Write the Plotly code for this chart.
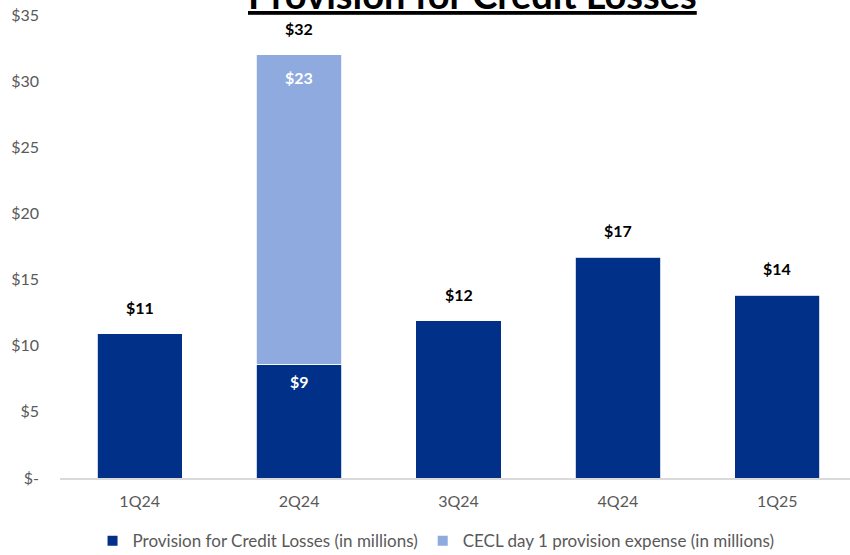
import plotly.graph_objects as go

quarters = ["1Q24", "2Q24", "3Q24", "4Q24", "1Q25"]
provision = [10.9, 8.6, 11.9, 16.7, 13.8]
cecl_day1 = [None, 23.4, None, None, None]
y_ticks = [0, 5, 10, 15, 20, 25, 30, 35]
y_tick_text = ["$-", "$5", "$10", "$15", "$20", "$25", "$30", "$35"]

DARK = "#003087"
LIGHT = "#8EAADF"
GRAY = "#595959"

totals = [p + (c or 0) for p, c in zip(provision, cecl_day1)]

fig = go.Figure()
fig.add_trace(go.Bar(
    x=quarters, y=provision, name="Provision for Credit Losses (in millions)",
    marker=dict(color=DARK, line=dict(color="white", width=0.8)),
    width=0.535,
))
fig.add_trace(go.Bar(
    x=quarters, y=cecl_day1, name="CECL day 1 provision expense (in millions)",
    marker=dict(color=LIGHT, line=dict(color="white", width=0.8)),
    width=0.535,
))

# white labels inside the top of each segment of a split bar
for q, p, c in zip(quarters, provision, cecl_day1):
    if c:
        fig.add_annotation(
            x=q, y=p, text=f"<b>${p:.0f}</b>", showarrow=False,
            yanchor="top", yshift=-6,
            font=dict(family="Lato", size=16, color="white"),
        )
        fig.add_annotation(
            x=q, y=p + c, text=f"<b>${c:.0f}</b>", showarrow=False,
            yanchor="top", yshift=-11,
            font=dict(family="Lato", size=16, color="white"),
        )

# totals above each bar
for q, t in zip(quarters, totals):
    fig.add_annotation(
        x=q, y=t, text=f"<b>${t:.0f}</b>", showarrow=False,
        yanchor="bottom", yshift=15,
        font=dict(family="Lato", size=16, color="black"),
    )

fig.add_annotation(
    xref="paper", yref="paper", x=0.522, y=1, xanchor="center", yanchor="bottom",
    yshift=-4, text="<b><u>Provision for Credit Losses</u></b>", showarrow=False,
    font=dict(family="Lato", size=38, color="black"),
)

fig.update_layout(
    width=850, height=555,
    margin=dict(l=60, r=0, t=15, b=77),
    barmode="stack",
    plot_bgcolor="white", paper_bgcolor="white",
    showlegend=True,
    legend=dict(
        orientation="h", x=0.476, xanchor="center",
        yref="container", y=0.025, yanchor="middle",
        font=dict(family="Lato", size=17, color=GRAY),
        itemsizing="constant", traceorder="normal",
    ),
)
fig.update_xaxes(
    range=[-0.5, 4.456], showgrid=False, showline=True, linecolor="#D9D9D9",
    linewidth=1.5, ticks="", tickfont=dict(family="Lato", size=16, color=GRAY),
    ticklabelstandoff=8,
)
fig.update_yaxes(
    range=[0, 35], tickvals=y_ticks, ticktext=y_tick_text, showgrid=False,
    zeroline=False, showline=False, ticks="",
    tickfont=dict(family="Lato", size=16, color=GRAY), ticklabelstandoff=20,
)

fig.write_html("out.html")
